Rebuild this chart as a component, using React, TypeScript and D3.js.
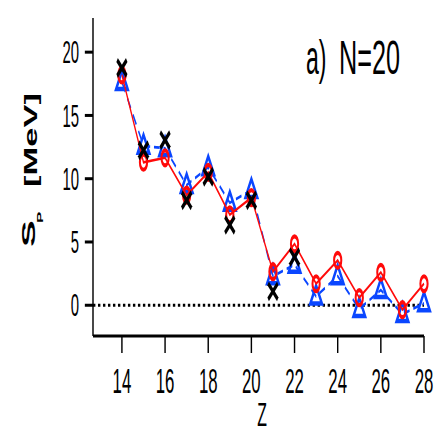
import React from 'react';
import * as d3 from 'd3';

// The figure is laid out in a wide "virtual" frame and squeezed horizontally by SX.
const SX = 0.48;
const W = 437;
const H = 433;

const zValues = [14, 15, 16, 17, 18, 19, 20, 21, 22, 23, 24, 25, 26, 27, 28];
// S_p values (MeV) for the three calculations
const spCircles = [18.2, 11.3, 11.65, 8.7, 10.5, 7.15, 8.5, 2.65, 4.85, 1.7, 3.55, 0.6, 2.6, -0.35, 1.7];
const spTriangles = [17.65, 12.6, 12.4, 9.5, 10.9, 8.1, 9.1, 2.3, 3.2, 0.7, 2.3, -0.3, 1.2, -0.7, 0.15];
const crossZ = [14, 15, 16, 17, 18, 19, 20, 21, 22];
const spCrosses = [18.75, 12.25, 13.05, 8.3, 10.15, 6.35, 8.3, 1.1, 3.8];

const xTicks = [14, 16, 18, 20, 22, 24, 26, 28];
const yTicks = [0, 5, 10, 15, 20];

const RED = '#ff0a0a';
const BLUE = '#0a46ff';
const FONT = '"Liberation Sans", Arial, Helvetica, sans-serif';

export default function App() {
  const left = 93 / SX;
  const right = 424 / SX;
  const top = 18;
  const bottom = 336;

  const x = d3.scaleLinear().domain([12.66, 28]).range([left, right]);
  const y = d3.scaleLinear().domain([-2.43, 22.7]).range([bottom, top]);

  const circlePts = zValues.map((z, i) => [x(z), y(spCircles[i])] as [number, number]);
  const triPts = zValues.map((z, i) => [x(z), y(spTriangles[i])] as [number, number]);
  const crossPts = crossZ.map((z, i) => [x(z), y(spCrosses[i])] as [number, number]);

  const line = d3.line();

  const tri = d3.path();
  tri.moveTo(0, -11);
  tri.lineTo(12, 7);
  tri.lineTo(-12, 7);
  tri.closePath();
  const triD = tri.toString();

  return (
    <svg
      width={W}
      height={H}
      style={{ position: 'absolute', left: 0, top: 0, background: '#fff' }}
    >
      <rect width={W} height={H} fill="#fff" />
      <g transform={`scale(${SX},1)`}>
        {/* zero reference */}
        <line
          x1={left}
          x2={right}
          y1={y(0)}
          y2={y(0)}
          stroke="#000"
          strokeWidth={3}
          strokeDasharray="5,5.4"
        />

        {/* axes */}
        <line x1={left} x2={left} y1={top} y2={bottom} stroke="#000" strokeWidth={3} />
        <line x1={left} x2={right} y1={bottom} y2={bottom} stroke="#000" strokeWidth={3} />
        {yTicks.map((t) => (
          <g key={`y${t}`}>
            <line x1={left - 17} x2={left} y1={y(t)} y2={y(t)} stroke="#000" strokeWidth={3} />
            <text
              x={79 / SX}
              y={y(t)}
              dy="0.36em"
              textAnchor="end"
              fontFamily={FONT}
              fontSize={31}
            >
              {t}
            </text>
          </g>
        ))}
        {xTicks.map((t) => (
          <g key={`x${t}`}>
            <line x1={x(t)} x2={x(t)} y1={bottom} y2={bottom + 17} stroke="#000" strokeWidth={3} />
            <text x={x(t)} y={393} textAnchor="middle" fontFamily={FONT} fontSize={35}>
              {t}
            </text>
          </g>
        ))}

        {/* axis titles */}
        <text x={262 / SX} y={426} textAnchor="middle" fontFamily={FONT} fontSize={33}>
          Z
        </text>
        <text
          transform={`translate(${35 / SX},247) rotate(-90)`}
          fontFamily={FONT}
          fontWeight="bold"
          fontSize={40}
        >
          S
        </text>
        <text
          transform={`translate(${43 / SX},223) rotate(-90)`}
          fontFamily={FONT}
          fontWeight="bold"
          fontSize={17}
        >
          P
        </text>
        <text
          transform={`translate(${37 / SX},187) rotate(-90)`}
          fontFamily={FONT}
          fontWeight="bold"
          fontSize={38}
          textLength={94}
          lengthAdjust="spacingAndGlyphs"
        >
          [MeV]
        </text>

        {/* panel label */}
        <text x={306 / SX} y={74} fontFamily={FONT} fontSize={48}>
          a)
        </text>
        <text
          x={339 / SX}
          y={74}
          fontFamily={FONT}
          fontSize={48}
          textLength={61 / SX}
          lengthAdjust="spacingAndGlyphs"
        >
          N=20
        </text>

        {/* triangles, dashed */}
        <path
          d={line(triPts) || ''}
          fill="none"
          stroke={BLUE}
          strokeWidth={2.8}
          strokeDasharray="12,8"
        />
        {triPts.map(([px, py], i) => (
          <path
            key={`t${i}`}
            d={triD}
            transform={`translate(${px},${py})`}
            fill="none"
            stroke={BLUE}
            strokeWidth={4.5}
            strokeLinejoin="miter"
          />
        ))}

        {/* circles, solid */}
        <path d={line(circlePts) || ''} fill="none" stroke={RED} strokeWidth={2.6} />
        {circlePts.map(([px, py], i) => (
          <circle key={`c${i}`} cx={px} cy={py} r={7.5} fill="none" stroke={RED} strokeWidth={4.2} />
        ))}

        {/* crosses */}
        {crossPts.map(([px, py], i) => (
          <g key={`x${i}`} transform={`translate(${px},${py})`} stroke="#000" strokeWidth={5}>
            <line x1={-10} y1={-8} x2={10} y2={8} />
            <line x1={-10} y1={8} x2={10} y2={-8} />
          </g>
        ))}
      </g>
    </svg>
  );
}
